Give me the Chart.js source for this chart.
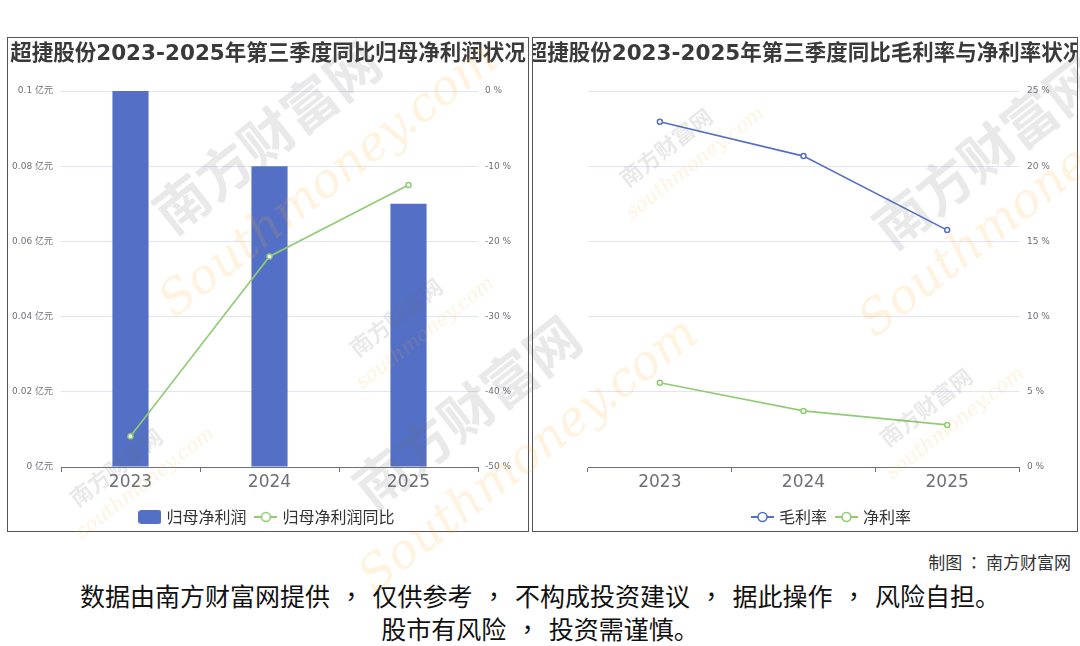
<!DOCTYPE html>
<html>
<head>
<meta charset="utf-8">
<script src="https://cdn.jsdelivr.net/npm/chart.js@4.4.1/dist/chart.umd.min.js"></script>
<style>
  html, body { margin:0; padding:0; background:#fff; }
  body { width:1080px; height:646px; position:relative; overflow:hidden; font-family:"Noto Sans CJK SC","Noto Sans",sans-serif; }
  .box { position:absolute; border:1px solid #555; box-sizing:border-box; overflow:hidden; background:#fff; }
  .box canvas { position:absolute; left:0; top:0; }
  .title { position:absolute; top:1px; left:50%; transform:translateX(-50%); white-space:nowrap; font-family:"DejaVu Sans","Noto Sans CJK SC",sans-serif; font-weight:bold; font-size:21.5px; line-height:28px; color:#3a3a3a; z-index:2; }
  .credit { position:absolute; right:9px; top:550px; font-size:17px; color:#333; line-height:24px; }
  .disc { position:absolute; left:0; width:1080px; text-align:center; font-size:25px; color:#111; line-height:33px; }
  .p { font-family:"Noto Sans CJK TC",sans-serif; margin:0 0.35em; }
  .pc { font-family:"Noto Sans CJK TC",sans-serif; margin:0 0.2em; }
  .wm { position:absolute; white-space:nowrap; pointer-events:none; z-index:5; transform-origin:center center; }
  .wg { color:rgba(110,110,110,0.15); font-weight:bold; }
  .wo { color:rgba(255,165,40,0.15); font-style:italic; font-family:"DejaVu Serif",serif; }
</style>
</head>
<body>
<div class="box" id="boxL" style="left:7px;top:37px;width:522px;height:495px;">
  <div class="title">超捷股份2023-2025年第三季度同比归母净利润状况</div>
  <canvas id="cL" width="520" height="497"></canvas>
</div>
<div class="box" id="boxR" style="left:532px;top:37px;width:546px;height:495px;">
  <div class="title">超捷股份2023-2025年第三季度同比毛利率与净利率状况</div>
  <canvas id="cR" width="544" height="497"></canvas>
</div>
<div class="credit">制图<span class="pc">：</span>南方财富网</div>
<div class="disc" style="top:579px;">数据由南方财富网提供<span class="p">，</span>仅供参考<span class="p">，</span>不构成投资建议<span class="p">，</span>据此操作<span class="p">，</span>风险自担。</div>
<div class="disc" style="top:612px;">股市有风险<span class="p">，</span>投资需谨慎。</div>

<div class="wm wg" style="left:130px;top:95px;font-size:54px;transform:rotate(-38deg);">南方财富网</div>
<div class="wm wo" style="left:120px;top:150px;font-size:48px;transform:rotate(-38deg);">Southmoney.com</div>
<div class="wm wg" style="left:330px;top:370px;font-size:54px;transform:rotate(-38deg);">南方财富网</div>
<div class="wm wo" style="left:320px;top:425px;font-size:48px;transform:rotate(-38deg);">Southmoney.com</div>
<div class="wm wg" style="left:850px;top:110px;font-size:54px;transform:rotate(-38deg);">南方财富网</div>
<div class="wm wo" style="left:820px;top:170px;font-size:48px;transform:rotate(-38deg);">Southmoney.com</div>
<div class="wm wg" style="left:60px;top:450px;font-size:22px;transform:rotate(-38deg);">南方财富网</div>
<div class="wm wo" style="left:60px;top:470px;font-size:20px;transform:rotate(-38deg);">southmoney.com</div>
<div class="wm wg" style="left:340px;top:300px;font-size:22px;transform:rotate(-38deg);">南方财富网</div>
<div class="wm wo" style="left:340px;top:320px;font-size:20px;transform:rotate(-38deg);">southmoney.com</div>
<div class="wm wg" style="left:610px;top:130px;font-size:22px;transform:rotate(-38deg);">南方财富网</div>
<div class="wm wo" style="left:610px;top:150px;font-size:20px;transform:rotate(-38deg);">southmoney.com</div>
<div class="wm wg" style="left:870px;top:390px;font-size:22px;transform:rotate(-38deg);">南方财富网</div>
<div class="wm wo" style="left:870px;top:410px;font-size:20px;transform:rotate(-38deg);">southmoney.com</div>

<script>
// ---- data ----
const categories = ['2023', '2024', '2025'];
const netProfit = [0.1, 0.08, 0.07];            // 归母净利润 (亿元)
const netProfitYoY = [-45.9, -22.0, -12.5];     // 归母净利润同比 (%)
const grossMargin = [22.95, 20.67, 15.75];      // 毛利率 (%)
const netMargin = [5.6, 3.73, 2.8];             // 净利率 (%)
const leftSeriesNames = ['归母净利润', '归母净利润同比'];
const rightSeriesNames = ['毛利率', '净利率'];

const BLUE = '#5470c6', GREEN = '#91cc75';
const FONT = '"Noto Sans CJK SC","Noto Sans",sans-serif';
const NUMFONT = '"DejaVu Sans","Noto Sans CJK SC",sans-serif';
const AXIS_TXT = '#6e7079';
const GRID = '#e0e6f1';

function barIcon(color) {
  const c = document.createElement('canvas'); c.width = 23; c.height = 14;
  const g = c.getContext('2d'); g.fillStyle = color;
  g.beginPath(); g.roundRect(0, 0, 23, 14, 3); g.fill();
  return c;
}
function lineIcon(color) {
  const c = document.createElement('canvas'); c.width = 23; c.height = 14;
  const g = c.getContext('2d'); g.strokeStyle = color; g.lineWidth = 2;
  g.beginPath(); g.moveTo(0, 7); g.lineTo(23, 7); g.stroke();
  g.beginPath(); g.arc(11.5, 7, 4.5, 0, Math.PI * 2); g.fillStyle = '#fff'; g.fill();
  g.lineWidth = 1.6; g.stroke();
  return c;
}

function legendOpts(icons) {
  return {
    position: 'bottom',
    labels: {
      usePointStyle: true, pointStyleWidth: 17, boxHeight: 14,
      padding: 11, color: '#333',
      font: { family: FONT, size: 16 },
      generateLabels: chart => chart.data.datasets.map((ds, i) => ({
        text: ds.label, pointStyle: icons[i], datasetIndex: i, hidden: false,
        fontColor: '#333', lineWidth: 0, strokeStyle: 'transparent', fillStyle: 'transparent'
      }))
    }
  };
}

const xAxis = {
  type: 'category',
  offset: true,
  grid: { display: true, offset: true, drawOnChartArea: false, drawTicks: true, tickLength: 5, color: AXIS_TXT },
  border: { display: true, color: AXIS_TXT, width: 1 },
  ticks: { color: AXIS_TXT, font: { family: NUMFONT, size: 17 }, padding: 0 },
  afterFit: s => { s.height = 31; }
};

Chart.defaults.animation = false;

new Chart(document.getElementById('cL'), {
  data: {
    labels: categories,
    datasets: [
      { type: 'bar', label: leftSeriesNames[0], data: netProfit, yAxisID: 'y', backgroundColor: BLUE,
        barPercentage: 0.26, categoryPercentage: 1, order: 2 },
      { type: 'line', label: leftSeriesNames[1], data: netProfitYoY, yAxisID: 'y1', borderColor: GREEN,
        borderWidth: 1.6, pointRadius: 2.5, pointBorderWidth: 1.5, pointBackgroundColor: '#fff',
        pointBorderColor: GREEN, tension: 0, order: 1 }
    ]
  },
  options: {
    responsive: false, animation: false,
    layout: { padding: { top: 53, left: 0, right: 0, bottom: 0 } },
    plugins: { legend: legendOpts([barIcon(BLUE), lineIcon(GREEN)]), tooltip: { enabled: false }, title: { display: false } },
    scales: {
      x: xAxis,
      y: {
        position: 'left', min: 0, max: 0.1,
        ticks: { stepSize: 0.02, color: AXIS_TXT, font: { family: NUMFONT, size: 9 }, padding: 8,
          callback: v => Number(v.toFixed(2)) + ' 亿元' },
        grid: { color: GRID, drawTicks: false }, border: { display: false },
        afterFit: s => { s.width = 53; }
      },
      y1: {
        position: 'right', min: -50, max: 0,
        ticks: { stepSize: 10, color: AXIS_TXT, font: { family: NUMFONT, size: 9 }, padding: 7,
          callback: v => Math.round(v) + ' %' },
        grid: { drawOnChartArea: false, drawTicks: false }, border: { display: false },
        afterFit: s => { s.width = 50; }
      }
    }
  }
});

new Chart(document.getElementById('cR'), {
  type: 'line',
  data: {
    labels: categories,
    datasets: [
      { label: rightSeriesNames[0], data: grossMargin, yAxisID: 'y1', borderColor: BLUE, borderWidth: 1.6,
        pointRadius: 2.5, pointBorderWidth: 1.5, pointBackgroundColor: '#fff', pointBorderColor: BLUE, tension: 0 },
      { label: rightSeriesNames[1], data: netMargin, yAxisID: 'y1', borderColor: GREEN, borderWidth: 1.6,
        pointRadius: 2.5, pointBorderWidth: 1.5, pointBackgroundColor: '#fff', pointBorderColor: GREEN, tension: 0 }
    ]
  },
  options: {
    responsive: false, animation: false,
    layout: { padding: { top: 53, left: 55, right: 0, bottom: 0 } },
    plugins: { legend: legendOpts([lineIcon(BLUE), lineIcon(GREEN)]), tooltip: { enabled: false }, title: { display: false } },
    scales: {
      x: xAxis,
      y1: {
        position: 'right', min: 0, max: 25,
        ticks: { stepSize: 5, color: AXIS_TXT, font: { family: NUMFONT, size: 9 }, padding: 8,
          callback: v => Math.round(v) + ' %' },
        grid: { color: GRID, drawTicks: false }, border: { display: false },
        afterFit: s => { s.width = 58; }
      }
    }
  }
});
</script>
</body>
</html>
